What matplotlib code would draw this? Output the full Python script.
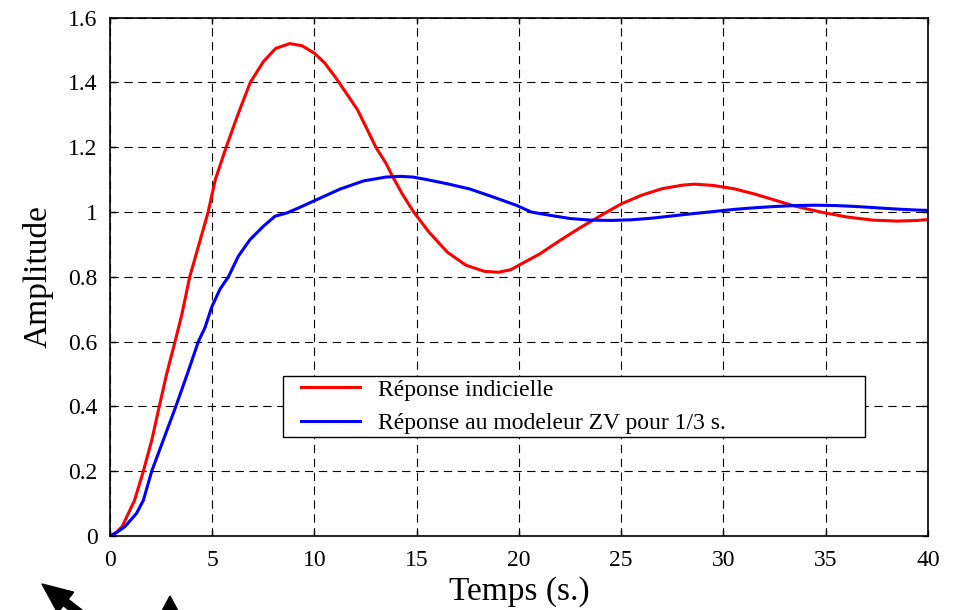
import matplotlib as mpl
import matplotlib.pyplot as plt
from matplotlib.lines import Line2D
from matplotlib.legend_handler import HandlerLine2D
from matplotlib.patches import FancyArrow
from matplotlib.transforms import IdentityTransform

# Values
t_step = [0, 0.3, 0.6, 0.9, 1.2, 1.63, 2.04, 2.41, 2.77, 3.18, 3.5, 3.9, 4.35, 4.8,
          5.15, 5.68, 6.25, 6.86, 7.5, 8.1, 8.8, 9.4, 10.0, 10.5, 11.0, 11.2, 12.1,
          12.5, 13.0, 13.5, 13.8, 14.3, 14.85, 15.6, 16.5, 17.4, 18.3, 19.0, 19.6,
          20.0, 21, 22, 23, 24.3, 25, 26, 27, 28, 28.6, 29.5, 30.5, 31.5, 32.5,
          33.5, 34.75, 36, 37.3, 38.5, 39.5, 40]
y_step = [0, 0.01, 0.03, 0.07, 0.11, 0.2, 0.295, 0.4, 0.5, 0.6, 0.68, 0.8, 0.9, 1.0,
          1.1, 1.2, 1.3, 1.4, 1.464, 1.505, 1.52, 1.513, 1.49, 1.46, 1.418, 1.4, 1.316,
          1.265, 1.2, 1.15, 1.112, 1.055, 1.0, 0.938, 0.876, 0.836, 0.817, 0.814, 0.822,
          0.836, 0.87, 0.912, 0.952, 1.0, 1.025, 1.052, 1.072, 1.083, 1.086, 1.082,
          1.072, 1.056, 1.037, 1.018, 1.0, 0.985, 0.975, 0.972, 0.974, 0.977]

t_zv = [0, 0.35, 0.73, 1.3, 1.63, 2.04, 2.6, 3.22, 3.78, 4.32, 4.65, 4.97, 5.38, 5.79,
        6.28, 6.85, 7.5, 8.07, 8.64, 9.2, 10.0, 11.26, 12.4, 13.5, 14.2, 14.8, 15.5,
        16.5, 17.6, 18.8, 19.9, 20.6, 21.5, 22.5, 23.5, 24.5, 25.5, 26.5, 27.5, 28.5,
        29.3, 30.5, 31.5, 32.5, 33.5, 34.5, 35.5, 36.5, 37.5, 38.5, 39.5, 40]
y_zv = [0, 0.012, 0.029, 0.07, 0.11, 0.2, 0.295, 0.4, 0.5, 0.6, 0.644, 0.706, 0.762, 0.8,
        0.864, 0.915, 0.956, 0.987, 0.997, 1.012, 1.035, 1.071, 1.096, 1.108, 1.11, 1.108,
        1.10, 1.087, 1.071, 1.045, 1.02, 1.0, 0.99, 0.98, 0.975, 0.974, 0.976, 0.981,
        0.988, 0.995, 1.0, 1.008, 1.013, 1.017, 1.02, 1.021, 1.02, 1.017, 1.013, 1.009,
        1.006, 1.005]

x_ticks = [0, 5, 10, 15, 20, 25, 30, 35, 40]
y_ticks = [0, 0.2, 0.4, 0.6, 0.8, 1, 1.2, 1.4, 1.6]
y_ticklabels = ['0', '0.2', '0.4', '0.6', '0.8', '1', '1.2', '1.4', '1.6']

mpl.rcParams['font.family'] = ['Liberation Serif', 'DejaVu Serif']
mpl.rcParams['lines.scale_dashes'] = False

fig = plt.figure(figsize=(9.54, 6.10), dpi=100)
ax = fig.add_axes([0.1153, 0.1213, 0.8574, 0.8498])

ax.plot(t_step, y_step, color='#ff0000', lw=2.2, label='Réponse indicielle')
ax.plot(t_zv, y_zv, color='#0000ff', lw=2.2, label='Réponse au modeleur ZV pour 1/3 s.')

ax.set_xlim(0, 40)
ax.set_ylim(0, 1.6)
ax.set_xticks(x_ticks)
ax.set_yticks(y_ticks)
ax.set_yticklabels(y_ticklabels)
ax.tick_params(direction='in', length=4, width=1, labelsize=17, top=True, right=True)
ax.tick_params(axis='x', pad=10)
ax.tick_params(axis='y', pad=9)
ax.grid(True, color='black', lw=0.8, linestyle=(0, (6, 4)))
for s in ax.spines.values():
    s.set_linewidth(1.2)

ax.set_xlabel('Temps (s.)', fontsize=24, labelpad=4)
ax.set_ylabel('Amplitude', fontsize=24, labelpad=10)

leg = ax.legend(loc='upper left', bbox_to_anchor=(0.2115, 0.1851, 0.7115, 0.1235),
                mode='expand', borderaxespad=0, fontsize=17, handlelength=3.14,
                handletextpad=0.76, borderpad=0.13, labelspacing=0.5,
                fancybox=False, framealpha=1,
                handler_map={Line2D: HandlerLine2D(xpad=0.64)})
leg.get_frame().set_edgecolor('black')
leg.get_frame().set_linewidth(1.0)

# black arrows cut off at the bottom left of the original page (pixel coords)
fig.add_artist(FancyArrow(105, -23, -63, 49, width=8, head_width=26, head_length=30,
                          length_includes_head=True, color='black',
                          transform=IdentityTransform()))
fig.add_artist(FancyArrow(170, -40, 0, 54, width=8, head_width=32, head_length=30,
                          length_includes_head=True, color='black',
                          transform=IdentityTransform()))

fig.savefig('out.png', dpi=100)
